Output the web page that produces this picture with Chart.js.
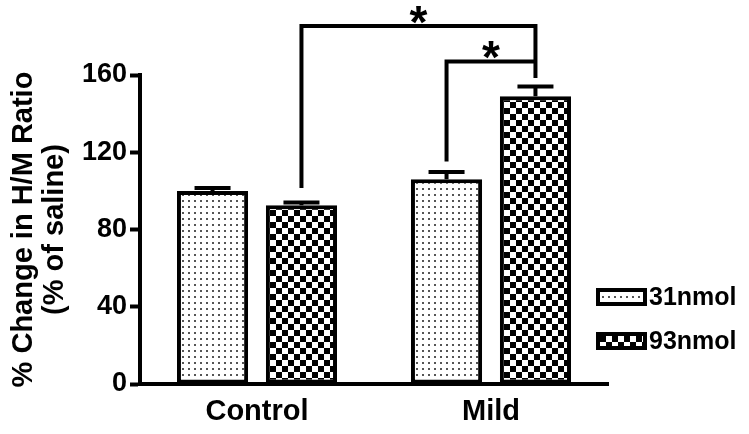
<!DOCTYPE html>
<html>
<head>
<meta charset="utf-8">
<script src="https://cdn.jsdelivr.net/npm/chart.js@4"></script>
<style>
  html, body { margin: 0; padding: 0; background: #fff; }
  #wrap { width: 749px; height: 434px; }
</style>
</head>
<body>
<div id="wrap"><canvas id="hmChart" width="749" height="434"></canvas></div>
<script>
// H/M ratio as % of saline, mean + SEM
const groups = ['Control', 'Mild'];
const doseLabels = ['31nmol', '93nmol'];
const mean31 = [100, 106];
const mean93 = [92.5, 149];
const sem31 = [1.5, 3.8];
const sem93 = [1.5, 5];
const yTicks = [0, 40, 80, 120, 160];

const FONT = '"Liberation Sans", Arial, sans-serif';

// fill patterns
function dotPattern() {
    const c = document.createElement('canvas');
    c.width = 6; c.height = 6;
    const g = c.getContext('2d');
    g.fillStyle = '#fff';
    g.fillRect(0, 0, 6, 6);
    g.fillStyle = '#555';
    g.fillRect(2, 2, 2, 2);
    return g.createPattern(c, 'repeat');
}

function checkPattern() {
    const c = document.createElement('canvas');
    c.width = 12; c.height = 12;
    const g = c.getContext('2d');
    g.fillStyle = '#fff';
    g.fillRect(0, 0, 12, 12);
    g.fillStyle = '#000';
    g.fillRect(0, 0, 6, 6);
    g.fillRect(6, 6, 6, 6);
    return g.createPattern(c, 'repeat');
}

const fills = [dotPattern(), checkPattern()];

// error bars (upper only)
const errorBars = {
    id: 'errorBars',
    afterDatasetsDraw(chart) {
        const ctx = chart.ctx;
        const y = chart.scales.y;
        ctx.save();
        ctx.strokeStyle = '#000';
        ctx.lineWidth = 4;
        chart.data.datasets.forEach((ds, d) => {
            chart.getDatasetMeta(d).data.forEach((bar, i) => {
                const top = y.getPixelForValue(ds.data[i] + ds.sem[i]);
                ctx.beginPath();
                ctx.moveTo(bar.x, bar.y);
                ctx.lineTo(bar.x, top);
                ctx.moveTo(bar.x - 18, top);
                ctx.lineTo(bar.x + 18, top);
                ctx.stroke();
            });
        });
        ctx.restore();
    }
};

// significance brackets
const sigBrackets = {
    id: 'sigBrackets',
    afterDatasetsDraw(chart, args, opts) {
        const ctx = chart.ctx;
        const y = chart.scales.y;
        const barX = (d, i) => chart.getDatasetMeta(d).data[i].x;
        ctx.save();
        ctx.strokeStyle = '#000';
        ctx.fillStyle = '#000';
        ctx.lineWidth = 4;
        opts.items.forEach(b => {
            const x1 = barX(b.from[0], b.from[1]);
            const x2 = barX(b.to[0], b.to[1]);
            const yTop = y.getPixelForValue(b.top);
            ctx.beginPath();
            ctx.moveTo(x1, y.getPixelForValue(b.fromEnd));
            ctx.lineTo(x1, yTop);
            ctx.lineTo(x2, yTop);
            if (b.toEnd != null) ctx.lineTo(x2, y.getPixelForValue(b.toEnd));
            ctx.stroke();
            ctx.font = 'bold 46px ' + FONT;
            ctx.textAlign = 'center';
            ctx.textBaseline = 'alphabetic';
            ctx.fillText(b.label, (x1 + x2) / 2, yTop + 12);
        });
        ctx.restore();
    }
};

// legend drawn at the right
const sideLegend = {
    id: 'sideLegend',
    afterDraw(chart) {
        const ctx = chart.ctx;
        ctx.save();
        chart.data.datasets.forEach((ds, d) => {
            const top = 288 + d * 44;
            ctx.fillStyle = ds.backgroundColor;
            ctx.fillRect(596, top, 51, 18);
            ctx.strokeStyle = '#000';
            ctx.lineWidth = 4;
            ctx.strokeRect(598, top + 2, 47, 14);
            ctx.fillStyle = '#000';
            ctx.font = 'bold 25px ' + FONT;
            ctx.textAlign = 'left';
            ctx.textBaseline = 'middle';
            ctx.fillText(ds.label, 649, top + 10);
        });
        ctx.restore();
    }
};

const ctx = document.getElementById('hmChart').getContext('2d');
new Chart(ctx, {
    type: 'bar',
    data: {
        labels: groups,
        datasets: [{
            label: doseLabels[0],
            data: mean31,
            sem: sem31,
            backgroundColor: fills[0],
            borderColor: '#000',
            borderWidth: 4,
            borderSkipped: false
        }, {
            label: doseLabels[1],
            data: mean93,
            sem: sem93,
            backgroundColor: fills[1],
            borderColor: '#000',
            borderWidth: 4,
            borderSkipped: false
        }]
    },
    options: {
        responsive: false,
        animation: false,
        categoryPercentage: 0.76,
        barPercentage: 0.8,
        layout: { padding: { top: 75, right: 141, bottom: 0, left: 0 } },
        plugins: {
            legend: { display: false },
            tooltip: { enabled: false },
            sigBrackets: {
                items: [
                    { from: [1, 0], to: [1, 1], fromEnd: 101.5, top: 185.4, toEnd: 158.4, label: '*' },
                    { from: [0, 1], to: [1, 1], fromEnd: 115.2, top: 167, toEnd: null, label: '*' }
                ]
            }
        },
        scales: {
            x: {
                grid: { display: false, drawTicks: false },
                border: { display: true, color: '#000', width: 4 },
                ticks: { color: '#000', font: { family: FONT, size: 29, weight: 'bold' }, padding: 11 },
                afterFit(scale) { scale.height = 50; }
            },
            y: {
                min: 0,
                max: 160,
                afterBuildTicks(scale) { scale.ticks = yTicks.map(v => ({ value: v })); },
                grid: { drawOnChartArea: false, drawTicks: true, tickLength: 10, tickWidth: 4, tickColor: '#000' },
                border: { display: true, color: '#000', width: 4 },
                ticks: { color: '#000', font: { family: FONT, size: 27, weight: 'bold' }, padding: 3 },
                title: {
                    display: true,
                    text: ['% Change in H/M Ratio', '(% of saline)'],
                    color: '#000',
                    font: { family: FONT, size: 29, weight: 'bold', lineHeight: 1.07 },
                    padding: { top: 8, bottom: 0 }
                },
                afterFit(scale) { scale.width = 140; }
            }
        }
    },
    plugins: [errorBars, sigBrackets, sideLegend]
});
</script>
</body>
</html>
